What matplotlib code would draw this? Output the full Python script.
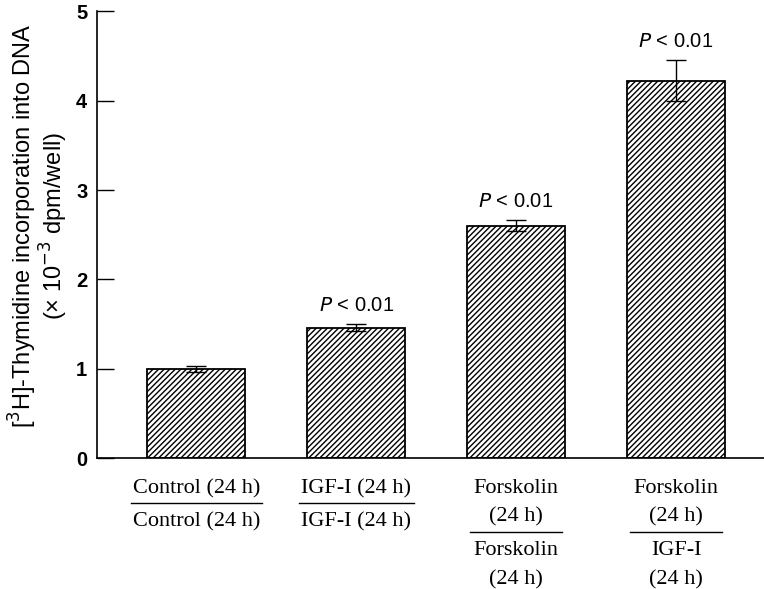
import numpy as np
import matplotlib
matplotlib.use("Agg")
import matplotlib.pyplot as plt

# values (x 10^-3 dpm/well)
groups = ["Control/Control", "IGF-I/IGF-I", "Forskolin/Forskolin", "Forskolin/IGF-I"]
means = [1.00, 1.46, 2.60, 4.22]
errors = [0.03, 0.04, 0.06, 0.23]
p_labels = ["", "P", "P", "P"]
top_lines = ["Control (24 h)", "IGF-I (24 h)", "Forskolin\n(24 h)", "Forskolin\n(24 h)"]
bottom_lines = ["Control (24 h)", "IGF-I (24 h)", "Forskolin\n(24 h)", "IGF-I\n(24 h)"]

plt.rcParams['hatch.linewidth'] = 1.0

fig = plt.figure(figsize=(7.64, 5.89), dpi=100)
ax = fig.add_axes([0.127, 0.222, 0.873, 0.759])

x = np.arange(len(groups))
ax.bar(x, means, width=0.61, color="white", edgecolor="black", hatch="//////", linewidth=1.3)
ax.errorbar(x, means, yerr=errors, fmt="none", ecolor="black", elinewidth=1.0, capsize=7, capthick=1.0)

for xi, m, e, p in zip(x, means, errors, p_labels):
    if p:
        ax.text(xi, m + e + 0.1, r"$\it{P}$ < 0.01", ha="center", va="bottom",
                fontsize=14.5, family="Liberation Sans")

ax.set_xlim(-0.62, 3.55)
ax.set_ylim(0, 5)
ax.set_yticks([0, 1, 2, 3, 4, 5])
ax.set_yticklabels(["0", "1", "2", "3", "4", "5"], fontsize=14.5, fontweight="bold", family="Liberation Sans")
ax.tick_params(axis="y", direction="in", length=12, width=1.0, pad=7)
ax.set_xticks([])
for s in ["top", "right"]:
    ax.spines[s].set_visible(False)
ax.spines["left"].set_linewidth(1.2)
ax.spines["bottom"].set_linewidth(1.2)

ax.set_ylabel("[$^3$H]-Thymidine incorporation into DNA\n(× 10$^{-3}$ dpm/well)",
              fontsize=17, family="Liberation Sans", linespacing=0.95)
ax.yaxis.set_label_coords(-0.04, 0.52)

# fraction style x labels
tr = ax.get_xaxis_transform()
line_half = [0.41, 0.36, 0.29, 0.29]
for xi, t, b, hw in zip(x, top_lines, bottom_lines, line_half):
    if "\n" in t:
        ax.text(xi, -0.047, t, transform=tr, ha="center", va="top", fontsize=16,
                family="Liberation Serif", linespacing=1.6)
        yl = -0.165
        ax.text(xi, -0.185, b, transform=tr, ha="center", va="top", fontsize=16,
                family="Liberation Serif", linespacing=1.75)
    else:
        ax.text(xi, -0.047, t, transform=tr, ha="center", va="top", fontsize=16,
                family="Liberation Serif")
        yl = -0.101
        ax.text(xi, -0.12, b, transform=tr, ha="center", va="top", fontsize=16,
                family="Liberation Serif")
    ax.plot([xi - hw, xi + hw], [yl, yl], transform=tr, color="black", lw=1.0, clip_on=False)

fig.savefig("out.png", dpi=100)
